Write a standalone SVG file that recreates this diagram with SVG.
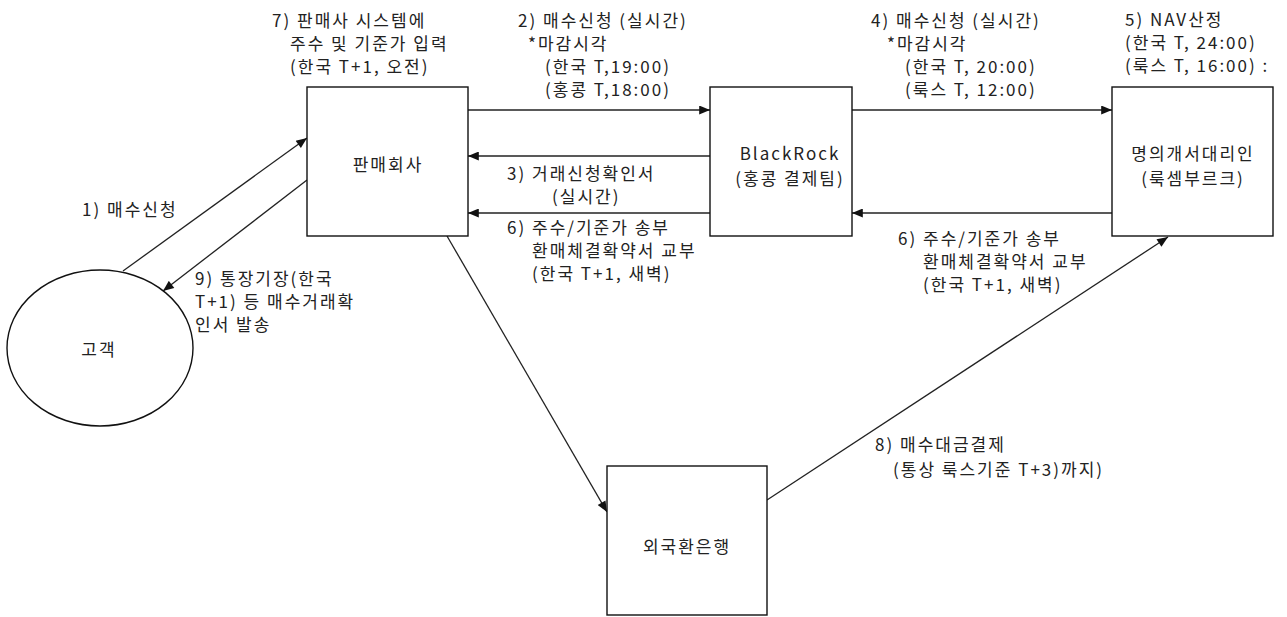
<svg xmlns="http://www.w3.org/2000/svg" width="1287" height="617" viewBox="0 0 1287 617">
<style>
text{font-family:"Noto Sans CJK KR","Liberation Sans",sans-serif;font-size:17px;letter-spacing:2px;fill:#222;dominant-baseline:central}
.c{text-anchor:middle}
.box{fill:#fff;stroke:#111;stroke-width:1.4}
.ln{fill:none;stroke:#222;stroke-width:1.3;marker-end:url(#ah)}
</style>
<defs>
<marker id="ah" viewBox="0 0 12 10" refX="12" refY="5" markerWidth="12" markerHeight="9" markerUnits="userSpaceOnUse" orient="auto">
<path d="M0,0 L12,5 L0,10 z" fill="#111"/>
</marker>
</defs>
<rect width="1287" height="617" fill="#fff"/>
<g id="connectors">
<line class="ln" x1="123" y1="271" x2="307" y2="138"/>
<line class="ln" x1="307" y1="180" x2="163" y2="291"/>
<line class="ln" x1="468" y1="110" x2="710" y2="110"/>
<line class="ln" x1="710" y1="156" x2="468" y2="156"/>
<line class="ln" x1="710" y1="213" x2="468" y2="213"/>
<line class="ln" x1="852" y1="110" x2="1112" y2="110"/>
<line class="ln" x1="1112" y1="213" x2="852" y2="213"/>
<line class="ln" x1="447" y1="236" x2="607" y2="512"/>
<line class="ln" x1="767" y1="500" x2="1168" y2="237"/>
</g>
<g id="node-customer">
<ellipse cx="100" cy="348" rx="93" ry="78" class="box"/>
<text class="c" x="99" y="348">고객</text>
</g>
<g id="node-seller">
<rect class="box" x="307" y="87" width="161" height="149"/>
<text class="c" x="388" y="163">판매회사</text>
</g>
<g id="node-blackrock">
<rect class="box" x="710" y="87" width="142" height="149"/>
<text class="c" x="790" y="152">BlackRock</text>
<text class="c" x="790" y="177">(홍콩 결제팀)</text>
</g>
<g id="node-agent">
<rect class="box" x="1112" y="87" width="161" height="149"/>
<text class="c" x="1193" y="152">명의개서대리인</text>
<text class="c" x="1193" y="177">(룩셈부르크)</text>
</g>
<g id="node-bank">
<rect class="box" x="607" y="466" width="160" height="149"/>
<text class="c" x="687" y="545">외국환은행</text>
</g>
<g id="labels">
<text x="272" y="19">7) 판매사 시스템에</text>
<text x="290" y="42">주수 및 기준가 입력</text>
<text x="290" y="65">(한국 T+1, 오전)</text>
<text x="518" y="19">2) 매수신청 (실시간)</text>
<text x="528" y="42">*마감시각</text>
<text x="545" y="65">(한국 T,19:00)</text>
<text x="545" y="88">(홍콩 T,18:00)</text>
<text x="871" y="19">4) 매수신청 (실시간)</text>
<text x="887" y="42">*마감시각</text>
<text x="905" y="65">(한국 T, 20:00)</text>
<text x="905" y="88">(룩스 T, 12:00)</text>
<text x="1125" y="18">5) NAV산정</text>
<text x="1125" y="41">(한국 T, 24:00)</text>
<text x="1125" y="64">(룩스 T, 16:00) :</text>
<text x="507" y="172">3) 거래신청확인서</text>
<text x="552" y="195">(실시간)</text>
<text x="507" y="226">6) 주수/기준가 송부</text>
<text x="532" y="249">환매체결확약서 교부</text>
<text x="532" y="272">(한국 T+1, 새벽)</text>
<text x="898" y="237">6) 주수/기준가 송부</text>
<text x="923" y="260">환매체결확약서 교부</text>
<text x="923" y="283">(한국 T+1, 새벽)</text>
<text x="82" y="208">1) 매수신청</text>
<text x="195" y="277">9) 통장기장(한국</text>
<text x="195" y="300">T+1) 등 매수거래확</text>
<text x="195" y="323">인서 발송</text>
<text x="875" y="443">8) 매수대금결제</text>
<text x="893" y="468">(통상 룩스기준 T+3)까지)</text>
</g>
</svg>
